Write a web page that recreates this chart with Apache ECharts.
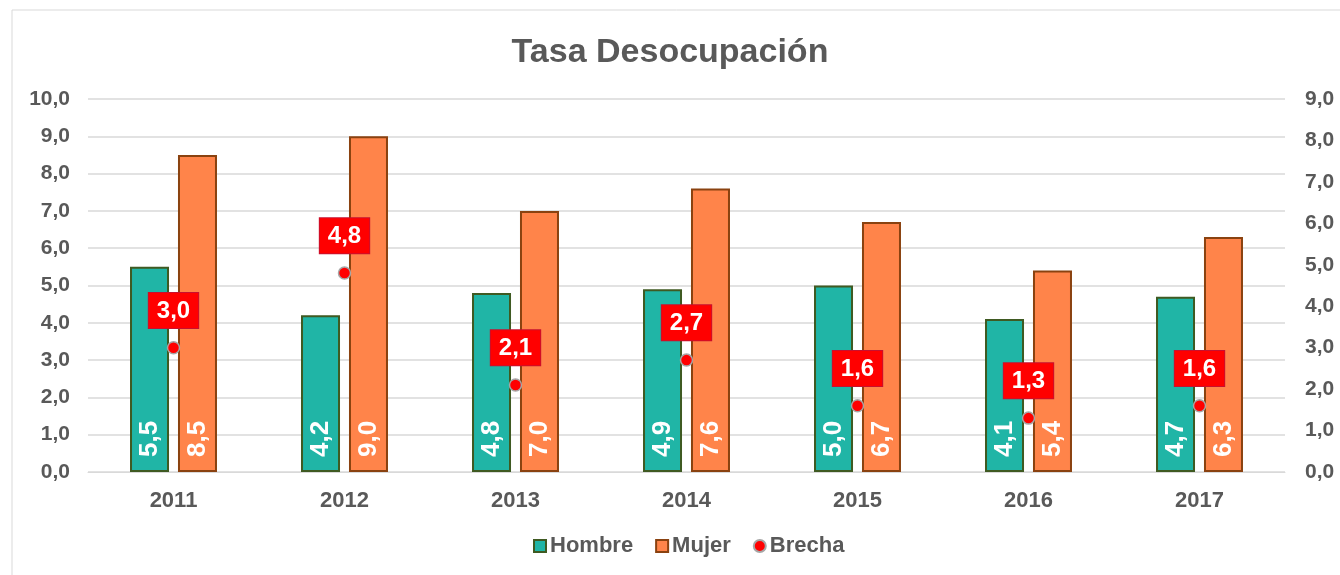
<!DOCTYPE html>
<html>
<head>
<meta charset="utf-8">
<script src="https://cdn.jsdelivr.net/npm/echarts@6/dist/echarts.min.js"></script>
<style>
  html, body { margin: 0; padding: 0; background: #fff; }
  #chart { width: 1340px; height: 575px; }
</style>
</head>
<body>
<div id="chart"></div>
<script>
// datos
var years = ['2011', '2012', '2013', '2014', '2015', '2016', '2017'];
var hombre = [5.5, 4.2, 4.8, 4.9, 5.0, 4.1, 4.7];
var mujer = [8.5, 9.0, 7.0, 7.6, 6.7, 5.4, 6.3];
var brecha = [3.0, 4.8, 2.1, 2.7, 1.6, 1.3, 1.6];

var FONT = '"Liberation Sans", Arial, sans-serif';
var GRIS = '#595959';

// 1 decimal con coma
function fmt(v) {
    return Number(v).toFixed(1).replace('.', ',');
}

var barLabel = {
    show: true,
    position: 'insideBottom',
    rotate: 90,
    align: 'left',
    verticalAlign: 'middle',
    distance: 15,
    color: '#fff',
    fontFamily: FONT,
    fontWeight: 'bold',
    fontSize: 26,
    formatter: function (p) { return fmt(p.value); }
};

var option = {
    animation: false,
    graphic: [{
        type: 'rect',
        shape: { x: 12, y: 10, width: 1340, height: 600 },
        style: { fill: 'none', stroke: '#d9d9d9', lineWidth: 1 },
        silent: true
    }],
    title: {
        text: 'Tasa Desocupación',
        left: 'center',
        top: 31,
        textStyle: { fontFamily: FONT, fontWeight: 'bold', fontSize: 34, color: GRIS }
    },
    legend: {
        bottom: 13,
        left: 528,
        itemWidth: 12,
        itemHeight: 12,
        itemGap: 22,
        textStyle: { fontFamily: FONT, fontWeight: 'bold', fontSize: 22, color: GRIS, padding: [0, 0, 0, -1] },
        data: [
            { name: 'Hombre', icon: 'rect' },
            { name: 'Mujer', icon: 'rect' },
            { name: 'Brecha', icon: 'circle' }
        ]
    },
    grid: { left: 88, right: 55, top: 99, bottom: 103 },
    xAxis: {
        type: 'category',
        data: years,
        axisTick: { show: false },
        axisLine: { lineStyle: { color: '#d9d9d9', width: 1 } },
        axisLabel: { margin: 18, color: GRIS, fontFamily: FONT, fontWeight: 'bold', fontSize: 22 }
    },
    yAxis: [{
        type: 'value',
        min: 0,
        max: 10,
        interval: 1,
        axisLine: { show: false },
        axisTick: { show: false },
        splitLine: { lineStyle: { color: '#d9d9d9', width: 1.5 } },
        axisLabel: { margin: 18, color: GRIS, fontFamily: FONT, fontWeight: 'bold', fontSize: 21, formatter: fmt }
    }, {
        type: 'value',
        min: 0,
        max: 9,
        interval: 1,
        axisLine: { show: false },
        axisTick: { show: false },
        splitLine: { show: false },
        axisLabel: { margin: 20, color: GRIS, fontFamily: FONT, fontWeight: 'bold', fontSize: 21, formatter: fmt }
    }],
    series: [{
        name: 'Hombre',
        type: 'bar',
        data: hombre,
        barWidth: 39,
        barGap: '23%',
        itemStyle: { color: '#20b5a6', borderColor: '#3f5a22', borderWidth: 2 },
        label: barLabel
    }, {
        name: 'Mujer',
        type: 'bar',
        data: mujer,
        barWidth: 39,
        itemStyle: { color: '#ff844a', borderColor: '#8a4210', borderWidth: 2 },
        label: barLabel
    }, {
        name: 'Brecha',
        type: 'scatter',
        yAxisIndex: 1,
        data: brecha,
        symbol: 'circle',
        symbolSize: 12,
        z: 5,
        itemStyle: { color: '#ff0000', borderColor: '#a6a6a6', borderWidth: 1.5, opacity: 1 },
        label: {
            show: true,
            position: 'top',
            distance: 13,
            backgroundColor: '#ff0000',
            borderColor: '#c8102e',
            borderWidth: 1,
            padding: [6, 8, 5, 8],
            color: '#fff',
            opacity: 1,
            fontFamily: FONT,
            fontWeight: 'bold',
            fontSize: 24,
            formatter: function (p) { return fmt(p.value); }
        }
    }]
};

var myChart = echarts.init(document.getElementById('chart'));
myChart.setOption(option);
</script>
</body>
</html>
